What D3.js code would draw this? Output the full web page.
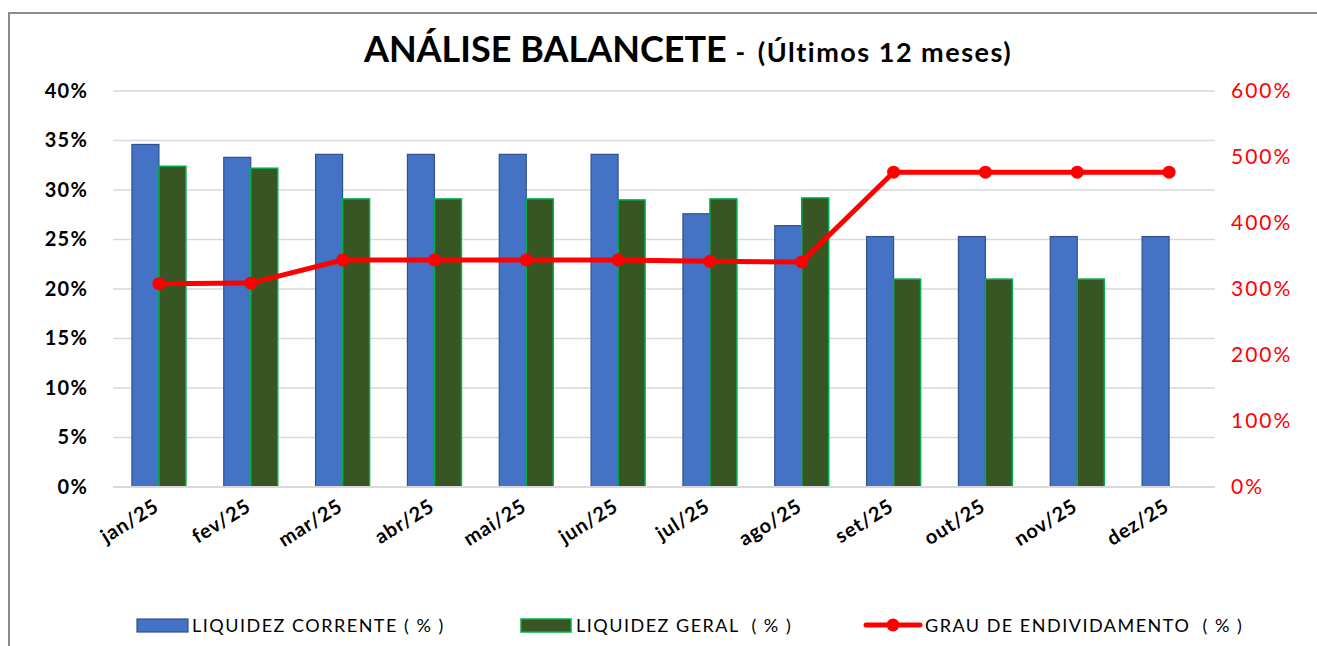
<!DOCTYPE html>
<html>
<head>
<meta charset="utf-8">
<script src="https://cdn.jsdelivr.net/npm/d3@7"></script>
<style>
  body { margin: 0; background: #fff; }
  svg { display: block; }
  text { white-space: pre; }
</style>
</head>
<body>
<svg id="chart" width="1317" height="646"></svg>
<script>
// data
const months = ["jan/25", "fev/25", "mar/25", "abr/25", "mai/25", "jun/25", "jul/25", "ago/25", "set/25", "out/25", "nov/25", "dez/25"];
const liquidezCorrente = [34.6, 33.3, 33.6, 33.6, 33.6, 33.6, 27.6, 26.4, 25.3, 25.3, 25.3, 25.3];
const liquidezGeral = [32.4, 32.2, 29.1, 29.1, 29.1, 29.0, 29.1, 29.2, 21.0, 21.0, 21.0, null];
const grauEndividamento = [308, 309, 344, 344, 344, 344, 342, 341, 477, 477, 477, 477];
const leftTicks = [0, 5, 10, 15, 20, 25, 30, 35, 40];
const rightTicks = [0, 100, 200, 300, 400, 500, 600];
const seriesNames = ["LIQUIDEZ CORRENTE ( % )", "LIQUIDEZ GERAL  ( % )", "GRAU DE ENDIVIDAMENTO  ( % )"];

const BLUE = "#4472c4", BLUE_EDGE = "#2f528f";
const GREEN = "#375623", GREEN_EDGE = "#00b050";
const RED = "#ff0000";
const FONT = "'Lato', 'DejaVu Sans', sans-serif";

const svg = d3.select("#chart");
const plot = { left: 113, right: 1215, top: 91, bottom: 487 };

// frame
svg.append("path")
	.attr("d", `M9,646 V13 H1317`)
	.attr("fill", "none")
	.attr("stroke", "#8c8c8c")
	.attr("stroke-width", 2);

const x = d3.scaleBand()
	.domain(months)
	.range([plot.left, plot.right]);

const yLeft = d3.scaleLinear().domain([0, 40]).range([plot.bottom, plot.top]);
const yRight = d3.scaleLinear().domain([0, 600]).range([plot.bottom, plot.top]);

const barW = 27;

// gridlines
svg.append("g")
	.selectAll("line")
	.data(leftTicks)
	.join("line")
	.attr("x1", plot.left).attr("x2", plot.right)
	.attr("y1", d => yLeft(d)).attr("y2", d => yLeft(d))
	.attr("stroke", "#d9d9d9")
	.attr("stroke-width", 1.5);

// left axis
const leftAxis = svg.append("g")
	.attr("transform", `translate(${plot.left - 22},0)`)
	.call(d3.axisLeft(yLeft).tickValues(leftTicks).tickSize(0).tickFormat(d => d + "%"));
leftAxis.select(".domain").remove();
leftAxis.selectAll("text")
	.attr("font-family", FONT)
	.attr("font-size", 20)
	.attr("font-weight", "bold")
	.attr("letter-spacing", 1.2)
	.attr("fill", "#000");

// right axis
const rightAxis = svg.append("g")
	.attr("transform", `translate(${plot.right + 13},0)`)
	.call(d3.axisRight(yRight).tickValues(rightTicks).tickSize(0).tickFormat(d => d + "%"));
rightAxis.select(".domain").remove();
rightAxis.selectAll("text")
	.attr("font-family", FONT)
	.attr("font-size", 21)
	.attr("letter-spacing", 2)
	.attr("fill", RED);

// bars
const groups = svg.append("g");
groups.selectAll("rect.corrente")
	.data(months)
	.join("rect")
	.attr("class", "corrente")
	.attr("x", d => x(d) + x.bandwidth() / 2 - barW)
	.attr("y", (d, i) => yLeft(liquidezCorrente[i]))
	.attr("width", barW)
	.attr("height", (d, i) => plot.bottom - yLeft(liquidezCorrente[i]))
	.attr("fill", BLUE)
	.attr("stroke", BLUE_EDGE)
	.attr("stroke-width", 1.2);

groups.selectAll("rect.geral")
	.data(months.filter((d, i) => liquidezGeral[i] != null))
	.join("rect")
	.attr("class", "geral")
	.attr("x", d => x(d) + x.bandwidth() / 2)
	.attr("y", d => yLeft(liquidezGeral[months.indexOf(d)]))
	.attr("width", barW)
	.attr("height", d => plot.bottom - yLeft(liquidezGeral[months.indexOf(d)]))
	.attr("fill", GREEN)
	.attr("stroke", GREEN_EDGE)
	.attr("stroke-width", 1.5);

// x axis line
svg.append("line")
	.attr("x1", plot.left).attr("x2", plot.right)
	.attr("y1", plot.bottom).attr("y2", plot.bottom)
	.attr("stroke", "#d9d9d9")
	.attr("stroke-width", 2);

// line series
const lineGen = d3.line()
	.x((d, i) => x(months[i]) + x.bandwidth() / 2)
	.y(d => yRight(d));

svg.append("path")
	.datum(grauEndividamento)
	.attr("d", lineGen)
	.attr("fill", "none")
	.attr("stroke", RED)
	.attr("stroke-width", 5)
	.attr("stroke-linejoin", "round");

svg.append("g")
	.selectAll("circle")
	.data(grauEndividamento)
	.join("circle")
	.attr("cx", (d, i) => x(months[i]) + x.bandwidth() / 2)
	.attr("cy", d => yRight(d))
	.attr("r", 6.5)
	.attr("fill", RED);

// x labels
svg.append("g")
	.selectAll("text")
	.data(months)
	.join("text")
	.attr("transform", d => `translate(${x(d) + x.bandwidth() / 2 - 6},${plot.bottom + 11}) rotate(-32)`)
	.attr("text-anchor", "end")
	.attr("dy", "0.7em")
	.attr("font-family", FONT)
	.attr("font-size", 20)
	.attr("font-weight", "bold")
	.attr("letter-spacing", 0.8)
	.attr("fill", "#000")
	.text(d => d);

// title
const title = svg.append("text")
	.attr("x", 688)
	.attr("y", 62)
	.attr("text-anchor", "middle")
	.attr("font-family", FONT)
	.attr("font-weight", "bold")
	.attr("fill", "#000");
title.append("tspan").attr("font-size", 36).text("ANÁLISE BALANCETE ");
title.append("tspan").attr("font-size", 26).text("-  ");
title.append("tspan").attr("font-size", 27).attr("letter-spacing", 1.5).text("(Últimos 12 meses)");

// legend
const legend = svg.append("g").attr("font-family", FONT).attr("font-size", 18).attr("letter-spacing", 1.5);
const legendX = [137, 521, 866];
const legendY = 625;

legend.append("rect")
	.attr("x", legendX[0]).attr("y", legendY - 6).attr("width", 51).attr("height", 13)
	.attr("fill", BLUE).attr("stroke", BLUE_EDGE).attr("stroke-width", 1.2);
legend.append("rect")
	.attr("x", legendX[1]).attr("y", legendY - 6).attr("width", 50).attr("height", 13)
	.attr("fill", GREEN).attr("stroke", GREEN_EDGE).attr("stroke-width", 1.5);
legend.append("line")
	.attr("x1", legendX[2]).attr("x2", legendX[2] + 54)
	.attr("y1", legendY).attr("y2", legendY)
	.attr("stroke", RED).attr("stroke-width", 5).attr("stroke-linecap", "round");
legend.append("circle")
	.attr("cx", legendX[2] + 27).attr("cy", legendY).attr("r", 6.5).attr("fill", RED);

legend.selectAll("text.lbl")
	.data(seriesNames)
	.join("text")
	.attr("class", "lbl")
	.attr("x", (d, i) => legendX[i] + (i === 2 ? 59 : 55))
	.attr("y", legendY + 7)
	.attr("fill", "#000")
	.text(d => d);
</script>
</body>
</html>
